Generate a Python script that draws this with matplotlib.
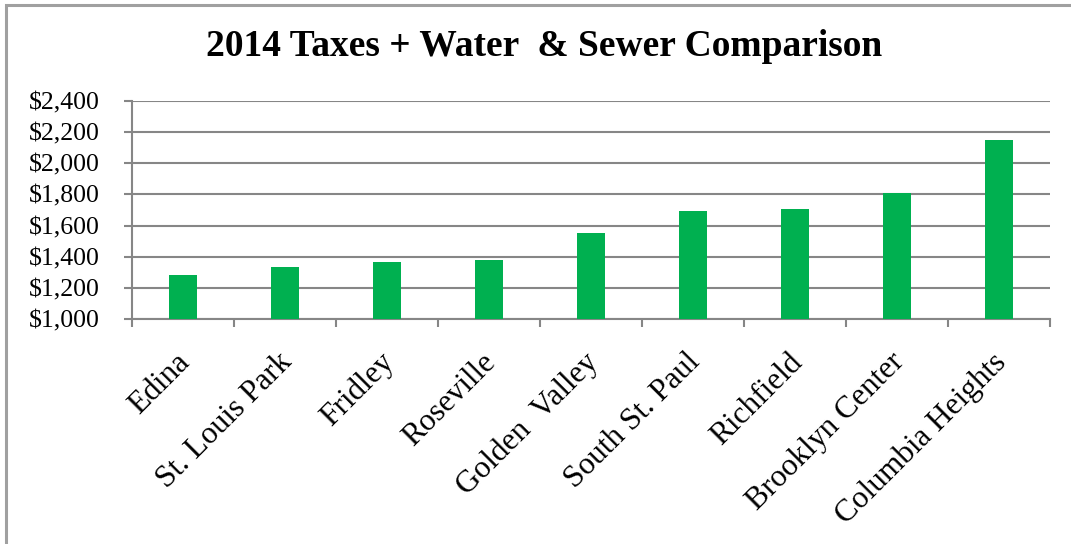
import matplotlib
matplotlib.use("Agg")
import matplotlib.pyplot as plt
from matplotlib.patches import Rectangle
from matplotlib.ticker import FuncFormatter

cities = ["Edina", "St. Louis Park", "Fridley", "Roseville", "Golden  Valley",
          "South St. Paul", "Richfield", "Brooklyn Center", "Columbia Heights"]
values = [1285, 1337, 1367, 1378, 1551, 1695, 1705, 1808, 2149]
yticks = [1000, 1200, 1400, 1600, 1800, 2000, 2200, 2400]
title = "2014 Taxes + Water  & Sewer Comparison"

W, H = 1071, 544
dpi = 100
fig = plt.figure(figsize=(W / dpi, H / dpi), dpi=dpi)
plt.rcParams['font.family'] = ['Liberation Serif', 'DejaVu Serif']

gray = "#868686"
green = "#00B050"

# chart border
fig.patches.append(Rectangle((6 / W, -0.1), 1.2, (H - 5) / H + 0.1, transform=fig.transFigure,
                             fill=False, edgecolor="#A0A0A0", linewidth=2.2))

left, right, top, bottom = 132, 1050, 101, 319
ax = fig.add_axes([left / W, 1 - bottom / H, (right - left) / W, (bottom - top) / H])

x = list(range(len(cities)))
ax.bar(x, values, width=0.28, color=green, zorder=3)
ax.set_xlim(-0.5, len(cities) - 0.5)
ax.set_ylim(yticks[0], yticks[-1])
ax.set_yticks(yticks)
ax.yaxis.set_major_formatter(FuncFormatter(lambda v, p: f"${int(v):,}"))
ax.yaxis.grid(True, color=gray, linewidth=1.5, zorder=0)
for s in ["top", "right"]:
    ax.spines[s].set_visible(False)
for s in ["left", "bottom"]:
    ax.spines[s].set_color(gray)
    ax.spines[s].set_linewidth(1.5)
ax.tick_params(axis="y", length=6, width=1.5, color=gray, labelsize=18.5, pad=17)

# category boundary ticks
ax.set_xticks([i - 0.5 for i in range(len(cities) + 1)])
ax.set_xticklabels([])
ax.tick_params(axis="x", length=6, width=1.5, color=gray)
for i, c in enumerate(cities):
    ax.annotate(c, xy=(i, yticks[0]), xycoords="data", xytext=(2, -28),
                textcoords="offset points", rotation=45, rotation_mode="anchor",
                ha="right", va="center", fontsize=22.5)

fig.text(544 / W, 1 - 47 / H, title, ha="center", va="center",
         fontsize=27, fontweight="bold")

fig.savefig("out.png", dpi=dpi)
